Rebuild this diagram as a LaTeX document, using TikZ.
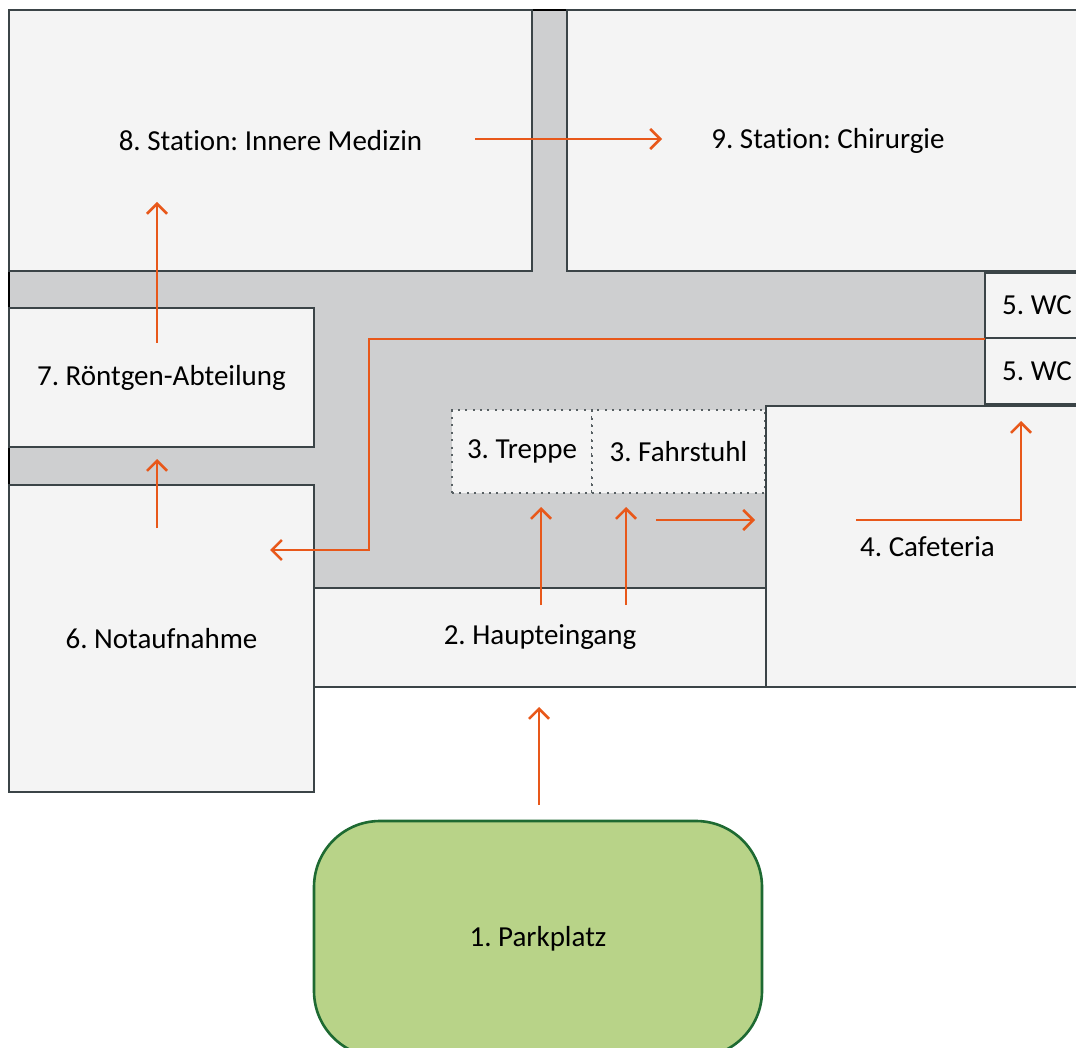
\documentclass[tikz,border=0pt]{standalone}
\usepackage{fontspec}
\setmainfont{Carlito}[Ligatures=NoCommon]
\frenchspacing
\usetikzlibrary{arrows.meta}

\definecolor{roomfill}{HTML}{F4F4F4}
\definecolor{roomline}{HTML}{3B4447}
\definecolor{hallfill}{HTML}{CECFD0}
\definecolor{wayline}{HTML}{E8581A}
\definecolor{parkfill}{HTML}{B8D388}
\definecolor{parkline}{HTML}{1E6A32}

\begin{document}
\begin{tikzpicture}[x=1pt,y=-1pt,
  room/.style={draw=roomline,fill=roomfill,line width=2.6pt,anchor=north west,
    outer sep=0pt,inner sep=0pt,font=\fontsize{29}{34}\selectfont},
  lift/.style={room,draw=roomline!85,line width=2pt,dash pattern=on 2pt off 5.4pt},
  park/.style={room,draw=parkline,fill=parkfill,rounded corners=66pt},
  way/.style={draw=wayline,line width=2.5pt,
    -{Straight Barb[length=10pt,width=20pt,line width=2.5pt]}}]
\useasboundingbox (0,0) rectangle (1076,1048);
% corridors
\draw [fill=hallfill,draw=black,line width=2pt] (9,10) rectangle (1089,588);
% rooms
\node [room,minimum width=523pt,minimum height=261pt] (inner) at (9,10) {8. Station: Innere Medizin};
\node [room,minimum width=522pt,minimum height=261pt] (surgery) at (567,10) {9. Station: Chirurgie};
\node [room,minimum width=305pt,minimum height=139pt] (xray) at (9,308) {7. Röntgen-Abteilung};
\node [room,minimum width=305pt,minimum height=307pt] (er) at (9,485) {6. Notaufnahme};
\node [room,minimum width=452pt,minimum height=99pt] (entry) at (314,588) {2. Haupteingang};
\node [lift,minimum width=140pt,minimum height=83pt] (stairs) at (452,410) {3. Treppe};
\node [lift,minimum width=173pt,minimum height=83pt] (elevator) at (592,410) {3. Fahrstuhl};
\node [room,minimum width=323pt,minimum height=281pt] (cafe) at (766,406) {4. Cafeteria};
\node [room,minimum width=104pt,minimum height=65pt] (wcA) at (985,273) {5. WC};
\node [room,minimum width=104pt,minimum height=66pt] (wcB) at (985,338) {5. WC};
\node [park,minimum width=448pt,minimum height=236pt] (parking) at (314,821) {1. Parkplatz};
% route ends
\coordinate (parkout) at (539,805);
\coordinate (entryin) at (539,707);
\coordinate (stairsout) at (541,605);
\coordinate (stairsin) at (541,507);
\coordinate (liftout) at (626,605);
\coordinate (liftin) at (626,507);
\coordinate (cafein) at (755,520);
\coordinate (hallmid) at (656,520);
\coordinate (cafeout) at (856,520);
\coordinate (wcin) at (1021,421);
\coordinate (wcout) at (985,339);
\coordinate (bendA) at (369,339);
\coordinate (bendB) at (369,550);
\coordinate (erin) at (270,550);
\coordinate (erout) at (157,528);
\coordinate (xrayin) at (157,459);
\coordinate (xrayout) at (157,343);
\coordinate (innerin) at (157,202);
\coordinate (innerout) at (475,139);
\coordinate (surgeryin) at (662,139);
% route
\draw [way] (parkout) -- (entryin);
\draw [way] (stairsout) -- (stairsin);
\draw [way] (liftout) -- (liftin);
\draw [way] (hallmid) -- (cafein);
\draw [way] (cafeout) -| (wcin);
\draw [way] (wcout) -- (bendA) -- (bendB) -- (erin);
\draw [way] (erout) -- (xrayin);
\draw [way] (xrayout) -- (innerin);
\draw [way] (innerout) -- (surgeryin);
\end{tikzpicture}
\end{document}
